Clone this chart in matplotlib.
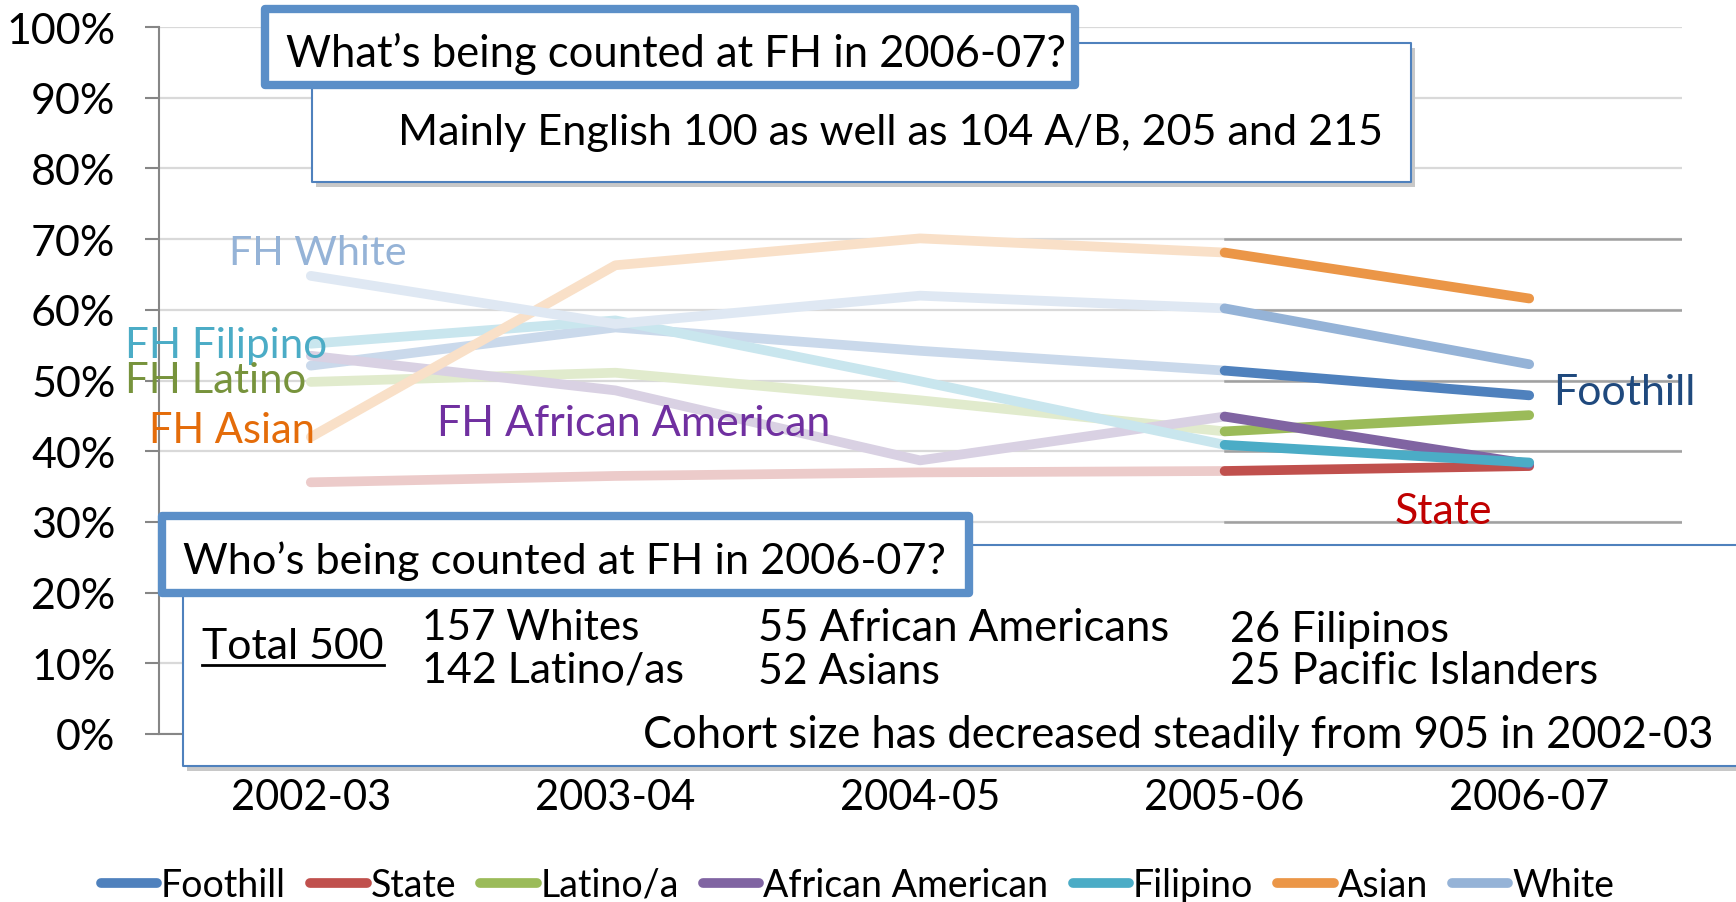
import matplotlib
matplotlib.use("Agg")
import matplotlib.pyplot as plt
from matplotlib.patches import Rectangle
from matplotlib.lines import Line2D
from matplotlib.colors import to_rgb

plt.rcParams["font.family"] = ["Lato", "DejaVu Sans"]

# DATA
years = ["2002-03", "2003-04", "2004-05", "2005-06", "2006-07"]
names = ["Foothill", "State", "Latino/a", "African American", "Filipino", "Asian", "White"]
foothill = [0.521, 0.575, 0.542, 0.514, 0.479]
state = [0.356, 0.365, 0.370, 0.372, 0.379]
latino = [0.498, 0.511, 0.472, 0.428, 0.451]
african_american = [0.535, 0.486, 0.387, 0.449, 0.382]
filipino = [0.552, 0.585, 0.499, 0.409, 0.384]
asian = [0.420, 0.663, 0.701, 0.681, 0.616]
white = [0.648, 0.580, 0.620, 0.602, 0.523]
series = [foothill, state, latino, african_american, filipino, asian, white]
colors = ["#4F81BD", "#C0504D", "#9BBB59", "#8064A2", "#4BACC6", "#EB9647", "#95B3D7"]

W, H = 1736, 903
fig = plt.figure(figsize=(W / 100, H / 100), dpi=100)
ax = fig.add_axes([158.5 / W, 1 - 735 / H, (1681.5 - 158.5) / W, (735 - 28) / H])


def faded(c, a=0.3):
    r, g, b = to_rgb(c)
    return (r * a + 1 - a, g * a + 1 - a, b * a + 1 - a)


x = list(range(len(years)))
for vals, c in zip(series, colors):
    ax.plot(x[:4], vals[:4], color=faded(c), lw=7, solid_capstyle="round",
            solid_joinstyle="round", zorder=3)
for vals, c in zip(series, colors):
    ax.plot(x[3:], vals[3:], color=c, lw=7, solid_capstyle="round", zorder=4)

ax.set_xlim(-0.5, 4.5)
ax.set_ylim(0, 1)
ax.set_yticks([i / 10 for i in range(11)])
ax.set_yticklabels(["%d%%" % (i * 10) for i in range(11)], fontsize=31)
ax.set_xticks(x)
ax.set_xticklabels(years, fontsize=30)
ax.tick_params(axis="x", length=0, pad=32)
ax.tick_params(axis="y", length=10, width=1.5, color="#868686", pad=21)
ax.yaxis.grid(True, color="#D9D9D9", lw=1.6)
ax.set_axisbelow(True)
for s in ["top", "right"]:
    ax.spines[s].set_visible(False)
for s in ["left", "bottom"]:
    ax.spines[s].set_color("#868686")
    ax.spines[s].set_linewidth(1.5)
# darker gridlines on the last segment
for v in [0.3, 0.4, 0.5, 0.6, 0.7]:
    ax.plot([3, 4.5], [v, v], color="#A0A0A0", lw=1.8, zorder=1)

renderer = fig.canvas.get_renderer()


def put(s, px, py, width, color="black", z=10):
    t = fig.text(px / W, 1 - py / H, s, color=color, fontsize=20, va="baseline",
                 ha="left", zorder=z)
    w = t.get_window_extent(renderer).width
    t.set_fontsize(20 * width / w)
    return t


def box(x0, y0, x1, y1, lw, ec, shadow=False, z=5):
    if shadow:
        fig.add_artist(Rectangle((x0 / W + 4 / W, 1 - (y1 + 5) / H), (x1 - x0) / W,
                                 (y1 - y0) / H, fc="#C8C8C8", ec="none", zorder=z - 0.1))
    fig.add_artist(Rectangle((x0 / W, 1 - y1 / H), (x1 - x0) / W, (y1 - y0) / H,
                             fc="white", ec=ec, lw=lw, zorder=z, joinstyle="round"))


# series labels
put("FH White", 229, 265, 178, "#95B3D7")
put("FH Filipino", 125, 358, 202, "#4BACC6")
put("FH Latino", 125, 393, 181, "#77933C")
put("FH Asian", 149, 443, 166, "#E46C0A")
put("FH African American", 437, 436, 395, "#7030A0")
put("Foothill", 1553, 405, 143, "#1F497D")
put("State", 1395, 524, 98, "#C00000")

# top callouts
box(312, 44, 1411, 183, 1.5, "#4F81BD", shadow=True, z=5)
box(265, 9.5, 1075, 86, 6, "#5B8FC8", z=6)
put("What\u2019s being counted at FH in 2006-07?", 286, 67, 782)
put("Mainly English 100 as well as 104 A/B, 205 and 215", 398, 145, 988)

# bottom callouts
box(183, 546, 1760, 767, 1.5, "#4F81BD", shadow=True, z=5)
box(162, 517, 969, 594, 6, "#5B8FC8", z=6)
put("Who\u2019s being counted at FH in 2006-07?", 183, 574, 765)
put("Total 500", 202, 659, 182)
fig.add_artist(Line2D([202 / W, 384 / W], [1 - 666 / H, 1 - 666 / H], color="black",
                      lw=2, zorder=10))
put("157 Whites", 422, 640, 218)
put("142 Latino/as", 422, 683, 263)
put("55 African Americans", 758, 641, 412)
put("52 Asians", 758, 684, 182)
put("26 Filipinos", 1230, 642, 219)
put("25 Pacific Islanders", 1230, 684, 369)
put("Cohort size has decreased steadily from 905 in 2002-03", 643, 748, 1073)

# legend
handles = [Line2D([], [], color=c, lw=7, solid_capstyle="round") for c in colors]
fig.legend(handles, names, loc="center", bbox_to_anchor=(0.494, 1 - 886 / H), ncol=7,
           frameon=False, fontsize=27, handlelength=1.5, handletextpad=0.1,
           columnspacing=0.65)

fig.savefig("out.png", dpi=100)
